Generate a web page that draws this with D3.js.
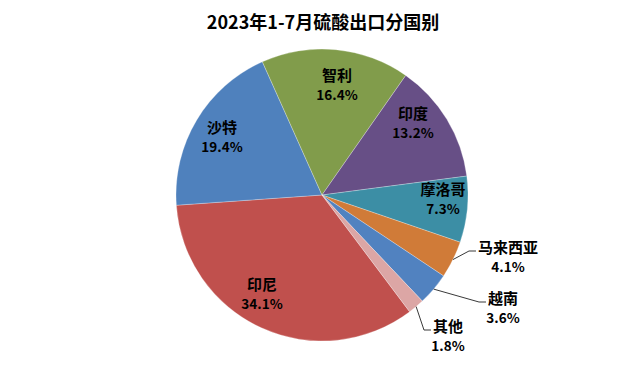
<!DOCTYPE html>
<html>
<head>
<meta charset="utf-8">
<script src="https://cdn.jsdelivr.net/npm/d3@7/dist/d3.min.js"></script>
<style>
  html, body { margin: 0; padding: 0; background: #fff; }
  svg { display: block; }
  text { font-family: "Noto Sans CJK SC", "Liberation Sans", sans-serif; font-weight: bold; fill: #000; }
</style>
</head>
<body>
<svg id="chart" width="624" height="378"></svg>
<script>
// ---- data ----
const title = "2023年1-7月硫酸出口分国别";
const categories = ["印尼", "沙特", "智利", "印度", "摩洛哥", "马来西亚", "越南", "其他"];
const shares = [34.1, 19.4, 16.4, 13.2, 7.3, 4.1, 3.6, 1.8];
const pctLabels = ["34.1%", "19.4%", "16.4%", "13.2%", "7.3%", "4.1%", "3.6%", "1.8%"];
const colors = ["#C0504D", "#4F81BD", "#819C4B", "#674F86", "#3C8EA5", "#D07B38", "#5182C0", "#DCA6A5"];

// ---- layout (label placement, not data) ----
const W = 624, H = 378;
const cx = 322, cy = 195, R = 146;
const startDeg = 143.1;
const labelPos = {
  "印尼":   {x: 262, y: 283, inside: true},
  "沙特":   {x: 222, y: 126, inside: true},
  "智利":   {x: 337, y: 74,  inside: true},
  "印度":   {x: 413, y: 112, inside: true},
  "摩洛哥": {x: 443, y: 188, inside: true},
  "马来西亚": {x: 508, y: 246, inside: false},
  "越南":   {x: 503, y: 297, inside: false},
  "其他":   {x: 448, y: 325, inside: false}
};
const pctDy = 20;

const svg = d3.select("#chart");
svg.append("rect").attr("width", W).attr("height", H).attr("fill", "#fff");

svg.append("text")
  .attr("x", 323).attr("y", 29)
  .attr("text-anchor", "middle")
  .style("font-size", "18px")
  .text(title);

const data = categories.map((c, i) => ({cat: c, value: shares[i], pct: pctLabels[i], color: colors[i]}));

const start = startDeg * Math.PI / 180;
const pie = d3.pie().sort(null).value(d => d.value)
  .startAngle(start).endAngle(start + 2 * Math.PI);
const arcs = pie(data);
const arc = d3.arc().innerRadius(0).outerRadius(R);

const g = svg.append("g").attr("transform", `translate(${cx},${cy})`);
g.selectAll("path.slice").data(arcs).enter().append("path")
  .attr("class", "slice")
  .attr("d", arc)
  .attr("fill", d => d.data.color)
  .attr("stroke", "rgba(255,255,255,0.45)")
  .attr("stroke-width", 0.6);

// labels
const lg = svg.append("g");
arcs.forEach(a => {
  const p = labelPos[a.data.cat];
  const name = lg.append("text")
    .attr("x", p.x).attr("y", p.y)
    .attr("text-anchor", "middle")
    .attr("dominant-baseline", "central")
    .style("font-size", "15px")
    .text(a.data.cat);
  lg.append("text")
    .attr("x", p.x).attr("y", p.y + pctDy)
    .attr("text-anchor", "middle")
    .attr("dominant-baseline", "central")
    .style("font-size", "13.5px")
    .text(a.data.pct);
  if (!p.inside) {
    const bb = name.node().getBBox();
    const mid = (a.startAngle + a.endAngle) / 2;
    const sx = cx + R * Math.sin(mid), sy = cy - R * Math.cos(mid);
    const ly = p.y + 5;
    const endX = bb.x - 2;
    const elbowX = endX - 7;
    lg.append("path")
      .attr("d", `M${sx},${sy}L${elbowX},${ly}L${endX},${ly}`)
      .attr("fill", "none")
      .attr("stroke", "#222")
      .attr("stroke-width", 0.9);
  }
});
</script>
</body>
</html>
